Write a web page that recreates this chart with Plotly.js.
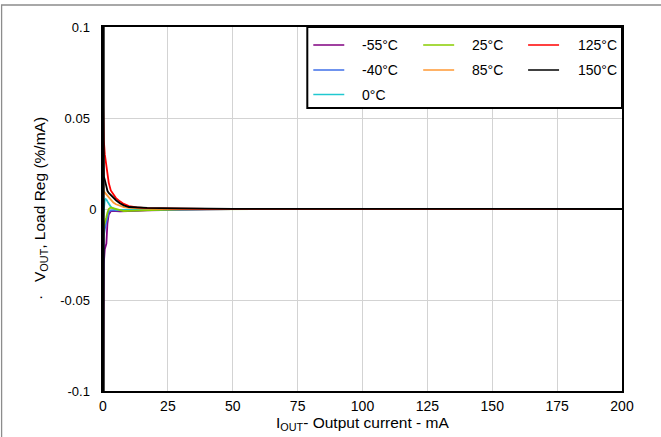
<!DOCTYPE html>
<html>
<head>
<meta charset="utf-8">
<script src="https://cdn.plot.ly/plotly-3.0.1.min.js"></script>
<style>
html,body{margin:0;padding:0;background:#fff;}
#chart{width:661px;height:437px;}
</style>
</head>
<body>
<div id="chart"></div>
<script>
// ---- data ----
const currentMA = [0, 0.3, 0.7, 1, 1.3, 1.7, 2.2, 3, 4, 5, 6.5, 8, 10, 13, 17, 22, 30, 40, 50, 75, 100, 125, 150, 175, 200];

const regM55 = [-0.11, -0.03, -0.022, -0.02, -0.019, -0.008, -0.003, -0.0012, -0.0010, -0.0012, -0.0013, -0.0013, -0.0012, -0.0010, -0.0007, -0.0005, -0.0003, -0.0002, -0.0001, 0, 0, 0, 0, 0, 0];
const regM40 = [-0.05, -0.015, -0.011, -0.009, -0.006, -0.003, -0.0015, -0.0008, -0.0008, -0.0009, -0.0010, -0.0010, -0.0009, -0.0007, -0.0005, -0.0004, -0.0002, -0.0001, 0, 0, 0, 0, 0, 0, 0];
const reg0 = [-0.005, 0.002, 0.005, 0.0055, 0.0052, 0.0042, 0.003, 0.0012, 0.0002, -0.0003, -0.0005, -0.0005, -0.0005, -0.0004, -0.0003, -0.0002, -0.0001, -0.0001, 0, 0, 0, 0, 0, 0, 0];
const reg25 = [-0.02, -0.01, -0.0075, -0.0065, -0.0045, -0.002, 0, 0.0008, 0.0004, -0.0003, -0.0009, -0.0011, -0.0010, -0.0008, -0.0006, -0.0004, -0.0002, -0.0001, 0, 0, 0, 0, 0, 0, 0];
const reg85 = [0.015, 0.01, 0.009, 0.0085, 0.008, 0.0072, 0.006, 0.0048, 0.0035, 0.0026, 0.0016, 0.0010, 0.0006, 0.0003, 0.0002, 0.0001, 0, 0, 0, 0, 0, 0, 0, 0, 0];
const reg125 = [0.06, 0.038, 0.03, 0.027, 0.024, 0.018, 0.0145, 0.0102, 0.0078, 0.006, 0.0042, 0.0028, 0.0016, 0.0009, 0.0005, 0.0003, 0.0002, 0.0001, 0.0001, 0.00005, 0.00005, 0, 0, 0, 0];
const reg150 = [0.035, 0.018, 0.016, 0.014, 0.012, 0.010, 0.0088, 0.0075, 0.0060, 0.0048, 0.0032, 0.0020, 0.0011, 0.0008, 0.0006, 0.0005, 0.0003, 0.0002, 0.0001, 0.00005, 0, 0, 0, 0, 0];

const seriesNames = ['-55°C', '-40°C', '0°C', '25°C', '85°C', '125°C', '150°C'];
const seriesValues = [regM55, regM40, reg0, reg25, reg85, reg125, reg150];

const xTickVals = [0, 25, 50, 75, 100, 125, 150, 175, 200];
const xTickLabels = ['0', '25', '50', '75', '100', '125', '150', '175', '200'];
const yTickVals = [-0.1, -0.05, 0, 0.05, 0.1];
const yTickLabels = ['-0.1', '-0.05', '0', '0.05', '0.1'];

// ---- styling ----
const colors = ['#800080', '#3f6fe8', '#20c8d0', '#88cc00', '#ff9933', '#ff0000', '#000000'];
const W = 661, H = 437;
const M = {l: 102.5, r: 39, t: 27, b: 46};
const PW = W - M.l - M.r, PH = H - M.t - M.b;
const px2x = p => (p - M.l) / PW;
const py2y = p => (H - M.b - p) / PH;
const FONT = '"Liberation Sans", Arial, sans-serif';

const traces = seriesValues.map((vals, i) => ({
  x: currentMA, y: vals, type: 'scatter', mode: 'lines',
  name: seriesNames[i], line: {color: colors[i], width: 1.8}, showlegend: false
}));

// manual legend
const slots = [[0,0],[0,1],[0,2],[1,0],[1,1],[2,0],[2,1]]; // [col,row]
const colLine = [313, 423, 528];
const colText = [360, 470, 576];
const rowY = [45, 70, 94.5];
const shapes = [
  {type:'rect', xref:'paper', yref:'paper', x0:px2x(1), x1:px2x(665), y0:py2y(445), y1:py2y(5),
   line:{color:'#8c8c8c', width:1.3}, fillcolor:'rgba(0,0,0,0)', layer:'below'},
  {type:'line', xref:'paper', yref:'paper', x0:px2x(102.6), x1:px2x(102.6), y0:0, y1:1,
   line:{color:'#000', width:3.2}, layer:'above'},
  {type:'rect', xref:'paper', yref:'paper', x0:px2x(307), x1:px2x(622), y0:py2y(108), y1:py2y(27),
   line:{color:'#000', width:2}, fillcolor:'#fff', layer:'above'}
];
const annotations = [];
seriesNames.forEach((n, i) => {
  const [c, r] = slots[i];
  shapes.push({type:'line', xref:'paper', yref:'paper', x0:px2x(colLine[c]), x1:px2x(colLine[c]+31),
    y0:py2y(rowY[r]), y1:py2y(rowY[r]), line:{color:colors[i], width:1.5}, layer:'above'});
  annotations.push({xref:'paper', yref:'paper', x:px2x(colText[c]), y:py2y(rowY[r]), text:n,
    xanchor:'left', yanchor:'middle', showarrow:false, font:{family:FONT, size:14, color:'#000'}});
});
annotations.push({xref:'paper', yref:'paper', x:px2x(40), y:py2y(208.5), textangle:-90,
  text:'·\u00a0\u00a0\u00a0V<sub>OUT</sub>, Load Reg (%/mA)', showarrow:false,
  xanchor:'center', yanchor:'middle', font:{family:FONT, size:15.5, color:'#000'}});
annotations.push({xref:'paper', yref:'paper', x:px2x(362), y:py2y(424),
  text:'I<sub>OUT</sub>- Output current - mA', showarrow:false,
  xanchor:'center', yanchor:'middle', font:{family:FONT, size:15.5, color:'#000'}});

const layout = {
  width: W, height: H,
  margin: M,
  paper_bgcolor: '#fff', plot_bgcolor: '#fff',
  font: {family: FONT, color: '#000'},
  showlegend: false,
  xaxis: {
    range: [0, 200], tickvals: xTickVals, ticktext: xTickLabels,
    showgrid: true, gridcolor: '#d3d3d3', gridwidth: 1, zeroline: false,
    showline: true, linecolor: '#000', linewidth: 2, mirror: true,
    ticks: 'outside', ticklen: 1, tickcolor: 'rgba(0,0,0,0)',
    tickfont: {family: FONT, size: 14, color: '#000'}
  },
  yaxis: {
    range: [-0.1, 0.1], tickvals: yTickVals,
    ticktext: yTickLabels.map(t => t === '0' ? t : t + '\u2002'),
    showgrid: true, gridcolor: '#d3d3d3', gridwidth: 1, zeroline: false,
    showline: true, linecolor: '#000', linewidth: 2, mirror: true,
    ticks: 'outside', ticklen: 2, tickcolor: 'rgba(0,0,0,0)',
    tickfont: {family: FONT, size: 13, color: '#000'}
  },
  shapes: shapes,
  annotations: annotations
};

Plotly.newPlot('chart', traces, layout, {displayModeBar: false, staticPlot: true});
</script>
</body>
</html>
